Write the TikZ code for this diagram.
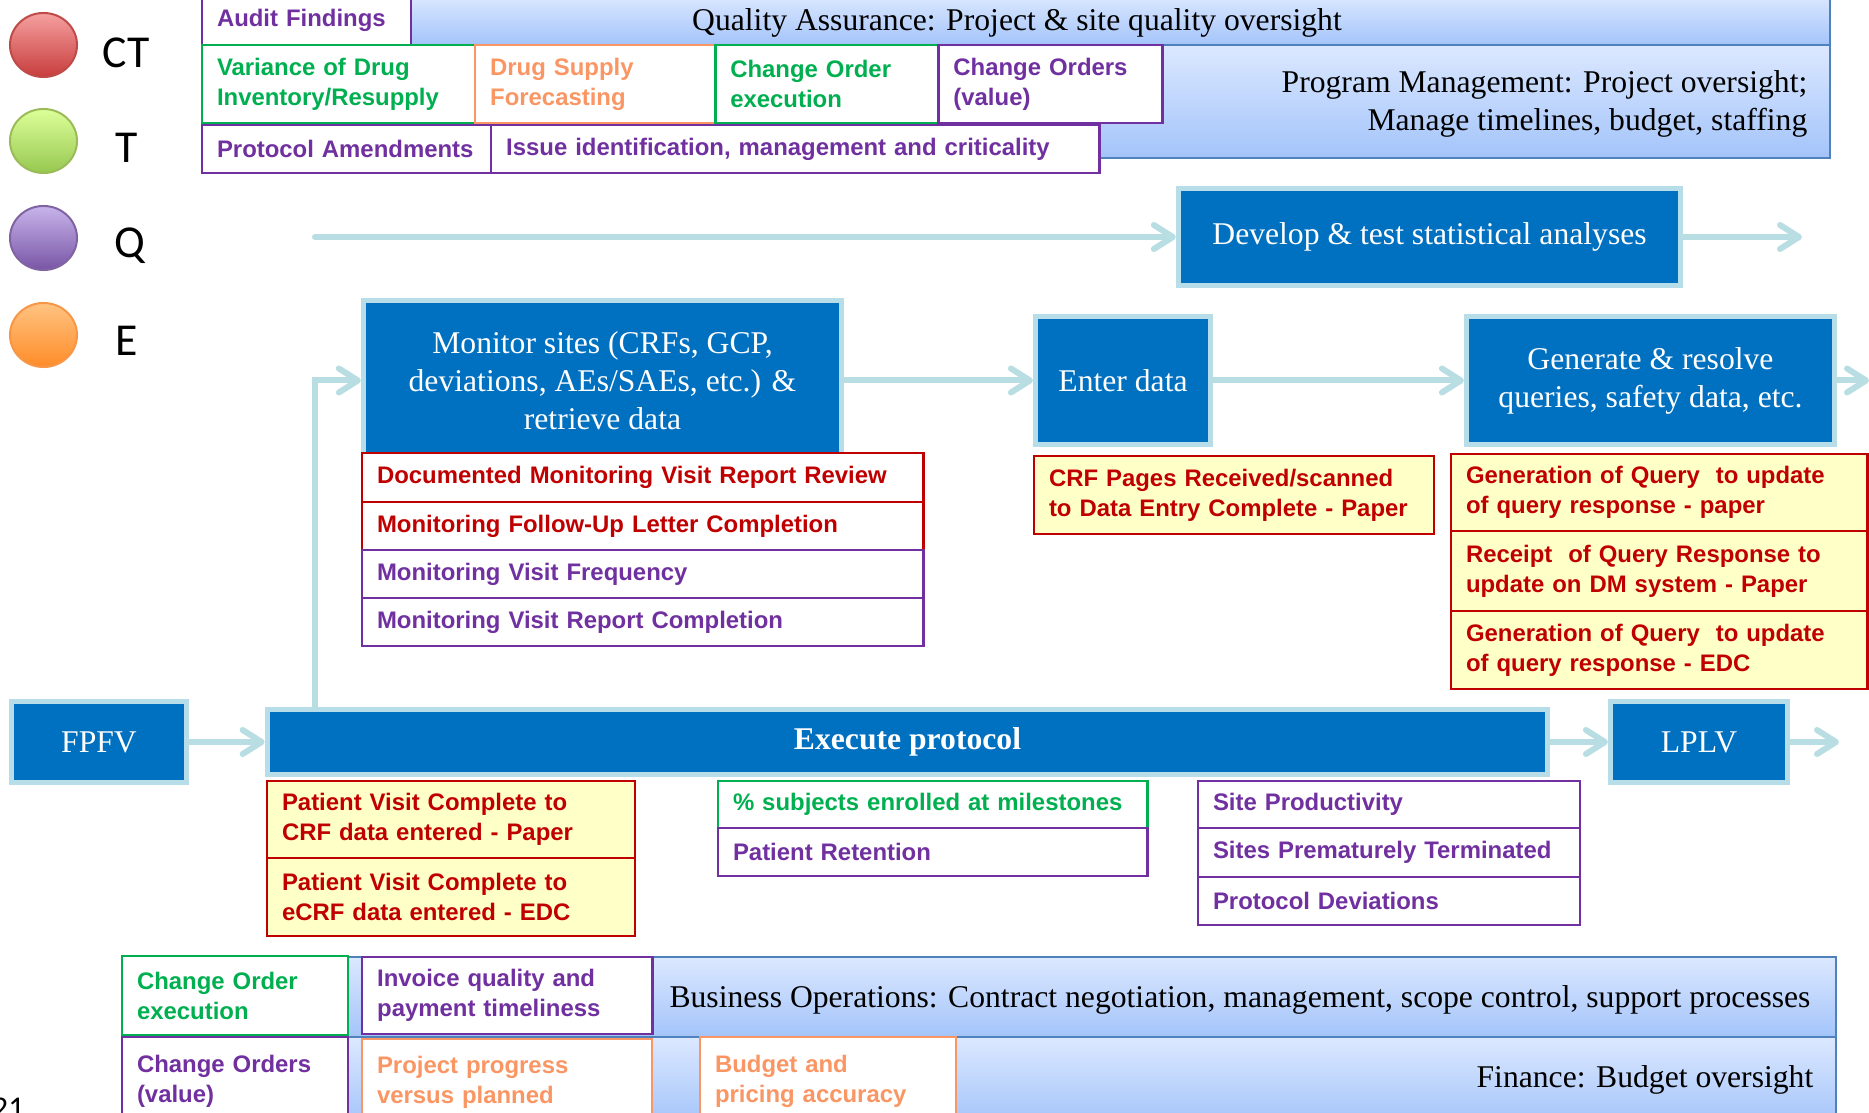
\documentclass[tikz,border=0pt]{standalone}
\usepackage{fontspec}
\setmainfont{Liberation Serif}
\setsansfont{Liberation Sans}
\newfontfamily\legendfont{Carlito}
\usepackage{tikz}
\usetikzlibrary{positioning, arrows.meta, shapes.geometric}
\usepackage{xcolor}
\definecolor{ppt-blue}{RGB}{0,112,192}
\definecolor{ppt-edge}{RGB}{183,221,232}
\definecolor{ppt-arrow}{RGB}{184,222,227}
\definecolor{ppt-red}{RGB}{192,0,0}
\definecolor{ppt-yellow}{RGB}{255,255,200}
\definecolor{ppt-purple}{RGB}{112,48,160}
\definecolor{ppt-green}{RGB}{0,176,80}
\definecolor{ppt-orange}{RGB}{250,150,100}
\definecolor{band-top}{RGB}{220,232,255}
\definecolor{band-bot}{RGB}{163,196,250}
\definecolor{band-edge}{RGB}{79,129,189}
\definecolor{ct-top}{RGB}{245,160,160}
\definecolor{ct-bot}{RGB}{200,60,60}
\definecolor{ct-edge}{RGB}{190,75,72}
\definecolor{t-top}{RGB}{221,255,153}
\definecolor{t-bot}{RGB}{150,200,80}
\definecolor{t-edge}{RGB}{155,187,89}
\definecolor{q-top}{RGB}{200,180,235}
\definecolor{q-bot}{RGB}{120,85,165}
\definecolor{q-edge}{RGB}{128,100,162}
\definecolor{e-top}{RGB}{255,195,130}
\definecolor{e-bot}{RGB}{255,140,40}
\definecolor{e-edge}{RGB}{247,150,70}

\begin{document}
\begin{tikzpicture}[x=0.01cm, y=-0.01cm, node distance=0pt,
	>={Straight Barb[length=1.9mm, width=2.4mm, round]},
	proc/.style={draw=ppt-edge, line width=0.5mm, fill=ppt-blue, text=white, align=center, inner sep=0pt, font=\fontsize{9pt}{10.8pt}\selectfont},
	kpi/.style={draw=#1, text=#1, fill=white, line width=0.25mm, anchor=north west, align=left, inner xsep=1.5mm, inner ysep=0pt, outer sep=0pt, font=\sffamily\bfseries\fontsize{6.8pt}{8.5pt}\selectfont},
	kpiy/.style={kpi=#1, fill=ppt-yellow},
	band/.style={draw=band-edge, line width=0.2mm, top color=band-top, bottom color=band-bot, anchor=north west, inner sep=0pt, outer sep=0pt},
	bandtxt/.style={inner sep=0pt, font=\fontsize{9pt}{10.8pt}\selectfont},
	flow/.style={->, draw=ppt-arrow, line width=0.6mm, line cap=round},
	legdot/.style={ellipse, minimum width=6.7mm, minimum height=6.4mm, inner sep=0pt, line width=0.2mm},
	legendtxt/.style={anchor=base, inner sep=0pt, font=\legendfont\fontsize{13pt}{15pt}\selectfont}]
	\useasboundingbox (0,0) rectangle (1869,1113);

	% legend
	\node[legdot, draw=ct-edge, top color=ct-top, bottom color=ct-bot] (ct) at (43.5,45) {};
	\node[legdot, draw=t-edge, top color=t-top, bottom color=t-bot] (t) at (43.5,141) {};
	\node[legdot, draw=q-edge, top color=q-top, bottom color=q-bot] (q) at (43.5,238) {};
	\node[legdot, draw=e-edge, top color=e-top, bottom color=e-bot] (e) at (43.5,335) {};
	\node[legendtxt] (ctlabel) at (126,68) {CT};
	\node[legendtxt] (tlabel) at (127,163) {T};
	\node[legendtxt] (qlabel) at (130,258) {Q};
	\node[legendtxt] (elabel) at (127,356) {E};

	% oversight bands
	\node[band, minimum width=162.7mm, minimum height=5mm] (qa) at (202,-5) {};
	\node[band, minimum width=162.7mm, minimum height=11.3mm] (pm) at (202,45) {};
	\node[band, minimum width=171.3mm, minimum height=8mm] (bo) at (122,957) {};
	\node[band, minimum width=171.3mm, minimum height=8.8mm] (fin) at (122,1037) {};
	\node[bandtxt] (qatext) at (1017,23) {Quality Assurance: Project \& site quality oversight};
	\node[bandtxt, anchor=east, align=right] (pmtext) at (1808,104) {Program Management: Project oversight;\\Manage timelines, budget, staffing};
	\node[bandtxt] (botext) at (1240,1000) {Business Operations: Contract negotiation, management, scope control, support processes};
	\node[bandtxt, anchor=east] (fintext) at (1814,1080) {Finance: Budget oversight};

	% top metrics
	\node[kpi=ppt-purple, text width=17.9mm, minimum height=5mm] (audit) at (202,-5) {Audit Findings};
	\node[kpi=ppt-green, text width=24.3mm, minimum height=7.8mm] (variance) at (202,45) {Variance of Drug\\Inventory/Resupply};
	\node[kpi=ppt-orange, text width=21mm, minimum height=7.8mm, right=of variance] (supply) {Drug Supply\\Forecasting};
	\node[kpi=ppt-green, text width=19.3mm, minimum height=7.8mm, right=of supply] (coexec) {Change Order\\execution};
	\node[kpi=ppt-purple, text width=19.4mm, minimum height=7.8mm, right=of coexec] (coval) {Change Orders\\(value)};
	\node[kpi=ppt-purple, text width=25.9mm, minimum height=4.8mm] (amend) at (202,125) {Protocol Amendments};
	\node[kpi=ppt-purple, text width=57.8mm, minimum height=4.8mm, right=of amend] (issue) {Issue identification, management and criticality};

	% process steps
	\node[proc, minimum width=50.2mm, minimum height=9.6mm] (dev) at (1429.5,237) {Develop \& test statistical analyses};
	\node[proc, minimum width=47.8mm, minimum height=16mm] (mon) at (602.5,380.5) {Monitor sites (CRFs, GCP,\\deviations, AEs/SAEs, etc.) \&\\retrieve data};
	\node[proc, minimum width=17.5mm, minimum height=12.8mm] (enter) at (1123,380.5) {Enter data};
	\node[proc, minimum width=36.8mm, minimum height=12.8mm] (gen) at (1650.5,380.5) {Generate \& resolve\\queries, safety data, etc.};
	\node[proc, minimum width=17.5mm, minimum height=8mm] (fpfv) at (99,742) {FPFV};
	\node[proc, minimum width=128mm, minimum height=6.4mm, font=\bfseries\fontsize{9pt}{10.8pt}\selectfont] (exec) at (907.5,742) {Execute protocol};
	\node[proc, minimum width=17.7mm, minimum height=8mm] (lplv) at (1699,742) {LPLV};

	% monitoring metrics
	\node[kpi=ppt-red, text width=53.1mm, minimum height=4.9mm] (mvr) at (362,453) {Documented Monitoring Visit Report Review};
	\node[kpi=ppt-red, text width=53.1mm, minimum height=4.8mm, below=of mvr] (fup) {Monitoring Follow-Up Letter Completion};
	\node[kpi=ppt-purple, text width=53.1mm, minimum height=4.8mm, below=of fup] (freq) {Monitoring Visit Frequency};
	\node[kpi=ppt-purple, text width=53.1mm, minimum height=4.8mm, below=of freq] (mvrc) {Monitoring Visit Report Completion};

	% data metrics
	\node[kpiy=ppt-red, text width=37mm, minimum height=7.8mm] (crf) at (1034,456) {CRF Pages Received/scanned\\to Data Entry Complete - Paper};
	\node[kpiy=ppt-red, text width=38.6mm, minimum height=7.7mm] (qpaper) at (1451,454) {Generation of Query~ to update\\of query response - paper};
	\node[kpiy=ppt-red, text width=38.6mm, minimum height=8mm, below=of qpaper] (qreceipt) {Receipt~ of Query Response to\\update on DM system - Paper};
	\node[kpiy=ppt-red, text width=38.6mm, minimum height=7.8mm, below=of qreceipt] (qedc) {Generation of Query~ to update\\of query response - EDC};

	% execution metrics
	\node[kpiy=ppt-red, text width=33.8mm, minimum height=7.7mm] (pvpaper) at (267,781) {Patient Visit Complete to\\CRF data entered - Paper};
	\node[kpiy=ppt-red, text width=33.8mm, minimum height=7.8mm, below=of pvpaper] (pvedc) {Patient Visit Complete to\\eCRF data entered - EDC};
	\node[kpi=ppt-green, text width=39.9mm, minimum height=4.7mm] (enrol) at (718,781) {\% subjects enrolled at milestones};
	\node[kpi=ppt-purple, text width=39.9mm, minimum height=4.8mm, below=of enrol] (retain) {Patient Retention};
	\node[kpi=ppt-purple, text width=35.2mm, minimum height=4.7mm] (prod) at (1198,781) {Site Productivity};
	\node[kpi=ppt-purple, text width=35.2mm, minimum height=4.9mm, below=of prod] (term) {Sites Prematurely Terminated};
	\node[kpi=ppt-purple, text width=35.2mm, minimum height=4.8mm, below=of term] (dev2) {Protocol Deviations};

	% business metrics
	\node[kpi=ppt-green, text width=19.6mm, minimum height=7.9mm] (coexec2) at (122,956) {Change Order\\execution};
	\node[kpi=ppt-purple, text width=26mm, minimum height=7.7mm, right=1.4mm of coexec2] (invoice) {Invoice quality and\\payment timeliness};
	\node[kpi=ppt-purple, text width=19.6mm, minimum height=8.8mm] (coval2) at (122,1037) {Change Orders\\(value)};
	\node[kpi=ppt-orange, text width=26mm, minimum height=8.6mm] (progress) at (362,1039) {Project progress\\versus planned};
	\node[kpi=ppt-orange, text width=22.6mm, minimum height=8.8mm] (budget) at (700,1037) {Budget and\\pricing accuracy};

	\node[anchor=base east, inner sep=0pt, font=\legendfont\fontsize{9pt}{10pt}\selectfont] (pageno) at (25,1119) {21};

	% flow
	\coordinate (start) at (315,237);
	\coordinate (devout) at (1802,237);
	\coordinate (genout) at (1869,380.5);
	\coordinate (lplvout) at (1839,742);
	\draw
	(start) edge[flow] (dev)
	(dev) edge[flow] (devout)
	(mon) edge[flow] (enter)
	(enter) edge[flow] (gen)
	(gen) edge[flow] (genout)
	(fpfv) edge[flow] (exec)
	(exec) edge[flow] (lplv)
	(lplv) edge[flow] (lplvout);
	\draw[flow] (exec.north -| start) |- (mon);
\end{tikzpicture}
\end{document}
